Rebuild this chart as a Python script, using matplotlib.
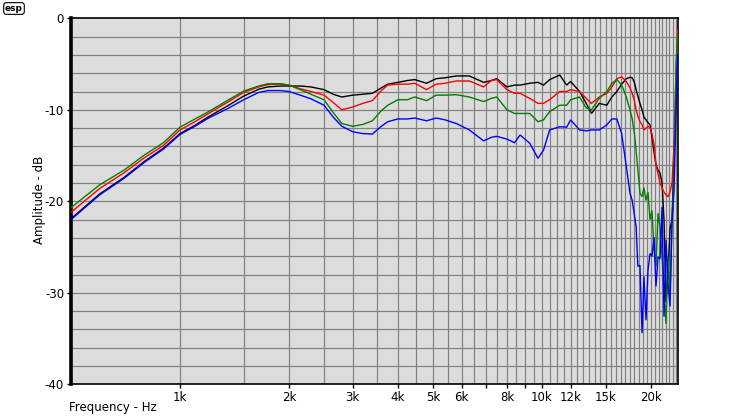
import numpy as np
import matplotlib
matplotlib.use("Agg")
import matplotlib.pyplot as plt
from matplotlib.ticker import FixedLocator, NullLocator

# ---- data (Hz, dB) ----
freq = [500, 600, 700, 800, 900, 1000, 1100, 1200, 1350, 1500, 1650, 1750, 1900,
        2000, 2150, 2300, 2500, 2650, 2800, 3000, 3200, 3400, 3600, 3750, 4000,
        4250, 4450, 4800, 5100, 5400, 5800, 6300, 6900, 7250, 7500, 8000, 8400,
        8700, 9250, 9750, 10100, 10500, 11200, 11700, 12000, 12700, 13250, 13700,
        14400, 15100, 15600, 16100, 16600, 17100, 17500, 17750, 18000, 18200,
        18400, 18650, 18900, 19130, 19380, 19630, 19880, 20130, 20390, 20650,
        20920, 21190, 21460, 21730, 22010, 22290, 22580, 22870, 23160, 23460, 23700]

black = [-21.9, -19.2, -17.4, -15.6, -14.2, -12.6, -11.7, -10.75, -9.6, -8.5, -7.75, -7.5, -7.4,
         -7.4, -7.4, -7.5, -7.8, -8.3, -8.6, -8.4, -8.3, -8.2, -7.6, -7.2, -7.0,
         -6.8, -6.7, -7.1, -6.6, -6.5, -6.3, -6.3, -7.0, -6.8, -6.6, -7.5, -7.3,
         -7.3, -7.1, -7.0, -7.3, -6.7, -6.2, -7.3, -6.9, -8.0, -9.3, -10.4,
         -9.3, -9.5, -8.6, -8.0, -7.2, -6.6, -6.45, -6.5, -7.0, -7.8,
         -8.5, -9.3, -10.0, -10.8, -11.1, -11.4, -11.65, -13.0, -14.6, -16.0,
         -16.6, -16.9, -18.0, -22.0, -31.0, -28.0, -23.0, -22.0, -15.0, -9.0, -7.7]

red = [-21.2, -18.6, -16.9, -15.2, -13.9, -12.2, -11.3, -10.4, -9.2, -8.1, -7.5, -7.25, -7.2,
       -7.3, -7.7, -8.0, -8.4, -9.2, -10.0, -9.7, -9.3, -9.0, -7.9, -7.3, -7.2,
       -7.2, -7.1, -7.8, -7.2, -7.1, -6.85, -6.85, -7.5, -6.8, -6.7, -7.8, -8.2,
       -8.2, -8.75, -9.3, -9.3, -8.9, -8.0, -8.0, -7.8, -8.0, -8.75, -9.3,
       -8.6, -8.2, -7.5, -6.6, -6.4, -6.9, -7.6, -8.2, -9.0, -10.0,
       -10.7, -11.3, -11.6, -12.2, -12.0, -11.8, -11.9, -12.6, -13.8, -16.0,
       -17.0, -18.0, -18.5, -19.0, -19.3, -19.5, -19.0, -18.0, -14.0, -6.0, -1.3]

green = [-20.7, -18.2, -16.6, -14.9, -13.6, -11.9, -11.0, -10.2, -9.0, -7.95, -7.4, -7.15, -7.15,
         -7.3, -7.8, -8.3, -8.9, -10.3, -11.5, -11.8, -11.6, -11.2, -10.1, -9.5, -8.9,
         -8.9, -8.6, -9.0, -8.4, -8.4, -8.35, -8.6, -9.1, -8.75, -8.6, -10.0, -10.4,
         -10.4, -10.4, -11.3, -11.1, -10.2, -9.5, -9.5, -8.9, -8.6, -9.8, -10.0,
         -8.75, -8.0, -7.1, -6.7, -7.3, -8.6, -10.0, -11.0, -12.6, -14.5,
         -16.5, -19.1, -19.5, -18.5, -19.9, -19.0, -22.0, -21.0, -25.3, -27.1,
         -21.3, -22.8, -26.1, -29.7, -33.4, -26.0, -30.4, -22.0, -17.0, -5.0, -1.8]

blue = [-22.0, -19.3, -17.5, -15.7, -14.3, -12.7, -11.8, -10.9, -9.9, -8.9, -8.1, -7.9, -7.9,
        -8.0, -8.4, -8.8, -9.5, -10.8, -11.8, -12.4, -12.6, -12.65, -11.8, -11.3, -11.0,
        -11.0, -10.9, -11.2, -10.9, -11.1, -11.5, -12.2, -13.4, -13.0, -12.9, -13.2, -13.6,
        -12.75, -13.65, -15.3, -14.4, -12.2, -11.85, -11.9, -11.1, -12.2, -12.3, -12.2,
        -12.2, -11.65, -11.0, -11.0, -12.6, -16.2, -19.1, -19.9, -21.5, -22.8,
        -27.1, -27.0, -34.4, -28.2, -33.0, -27.5, -25.7, -26.0, -23.9, -29.3,
        -26.1, -26.3, -20.6, -32.6, -24.2, -29.0, -31.5, -22.0, -18.8, -10.0, -4.0]

series = [(black, "#000000"), (red, "#ff0000"), (green, "#008000"), (blue, "#0000ff")]

xticks = [1000, 2000, 3000, 4000, 5000, 6000, 7000, 8000, 9000, 10000, 12000, 15000, 20000]
xticklabels = ["1k", "2k", "3k", "4k", "5k", "6k", "", "8k", "", "10k", "12k", "15k", "20k"]
yticks = [0, -10, -20, -30, -40]

fig = plt.figure(figsize=(7.4, 4.2), dpi=100)
ax = fig.add_axes([71 / 740, 1 - 384.3 / 420, (678.3 - 71) / 740, (384.3 - 18.3) / 420])
ax.set_facecolor("#dcdcdc")
ax.set_xscale("log")
ax.set_xlim(500, 23800)
ax.set_ylim(-40, 0)

# grid: every 500 Hz vertically, every 2 dB horizontally
for g in np.arange(1000, 24000, 500):
    ax.axvline(g, color="#808080", lw=0.85, zorder=1)
for g in np.arange(-38, 0, 2):
    ax.axhline(g, color="#808080", lw=0.85, zorder=1)

for i, (vals, col) in enumerate(series):
    ax.plot(freq, vals, color=col, lw=1.0, zorder=3 + i, solid_joinstyle="miter")

ax.xaxis.set_major_locator(FixedLocator(xticks))
ax.set_xticklabels(xticklabels)
ax.xaxis.set_minor_locator(NullLocator())
ax.set_yticks(yticks)
ax.set_yticklabels([str(v) for v in yticks])
ax.tick_params(axis="both", direction="out", length=3, width=1, labelsize=8.5, pad=2)

for s in ["top", "right", "bottom"]:
    ax.spines[s].set_linewidth(1.2)
    ax.spines[s].set_color("black")
ax.spines["left"].set_linewidth(2.6)

fig.text(40 / 740, 1 - 200 / 420, "Amplitude - dB", rotation=90, ha="center", va="center", fontsize=8.5)
fig.text(69 / 740, 1 - 408 / 420, "Frequency - Hz", ha="left", va="center", fontsize=8.5)
fig.text(14 / 740, 1 - 8.5 / 420, "esp", ha="center", va="center", fontsize=6.5, fontweight="bold",
         bbox=dict(boxstyle="round,pad=0.15,rounding_size=0.3", fc="white", ec="black", lw=0.8))

fig.savefig("out.png", dpi=100)
